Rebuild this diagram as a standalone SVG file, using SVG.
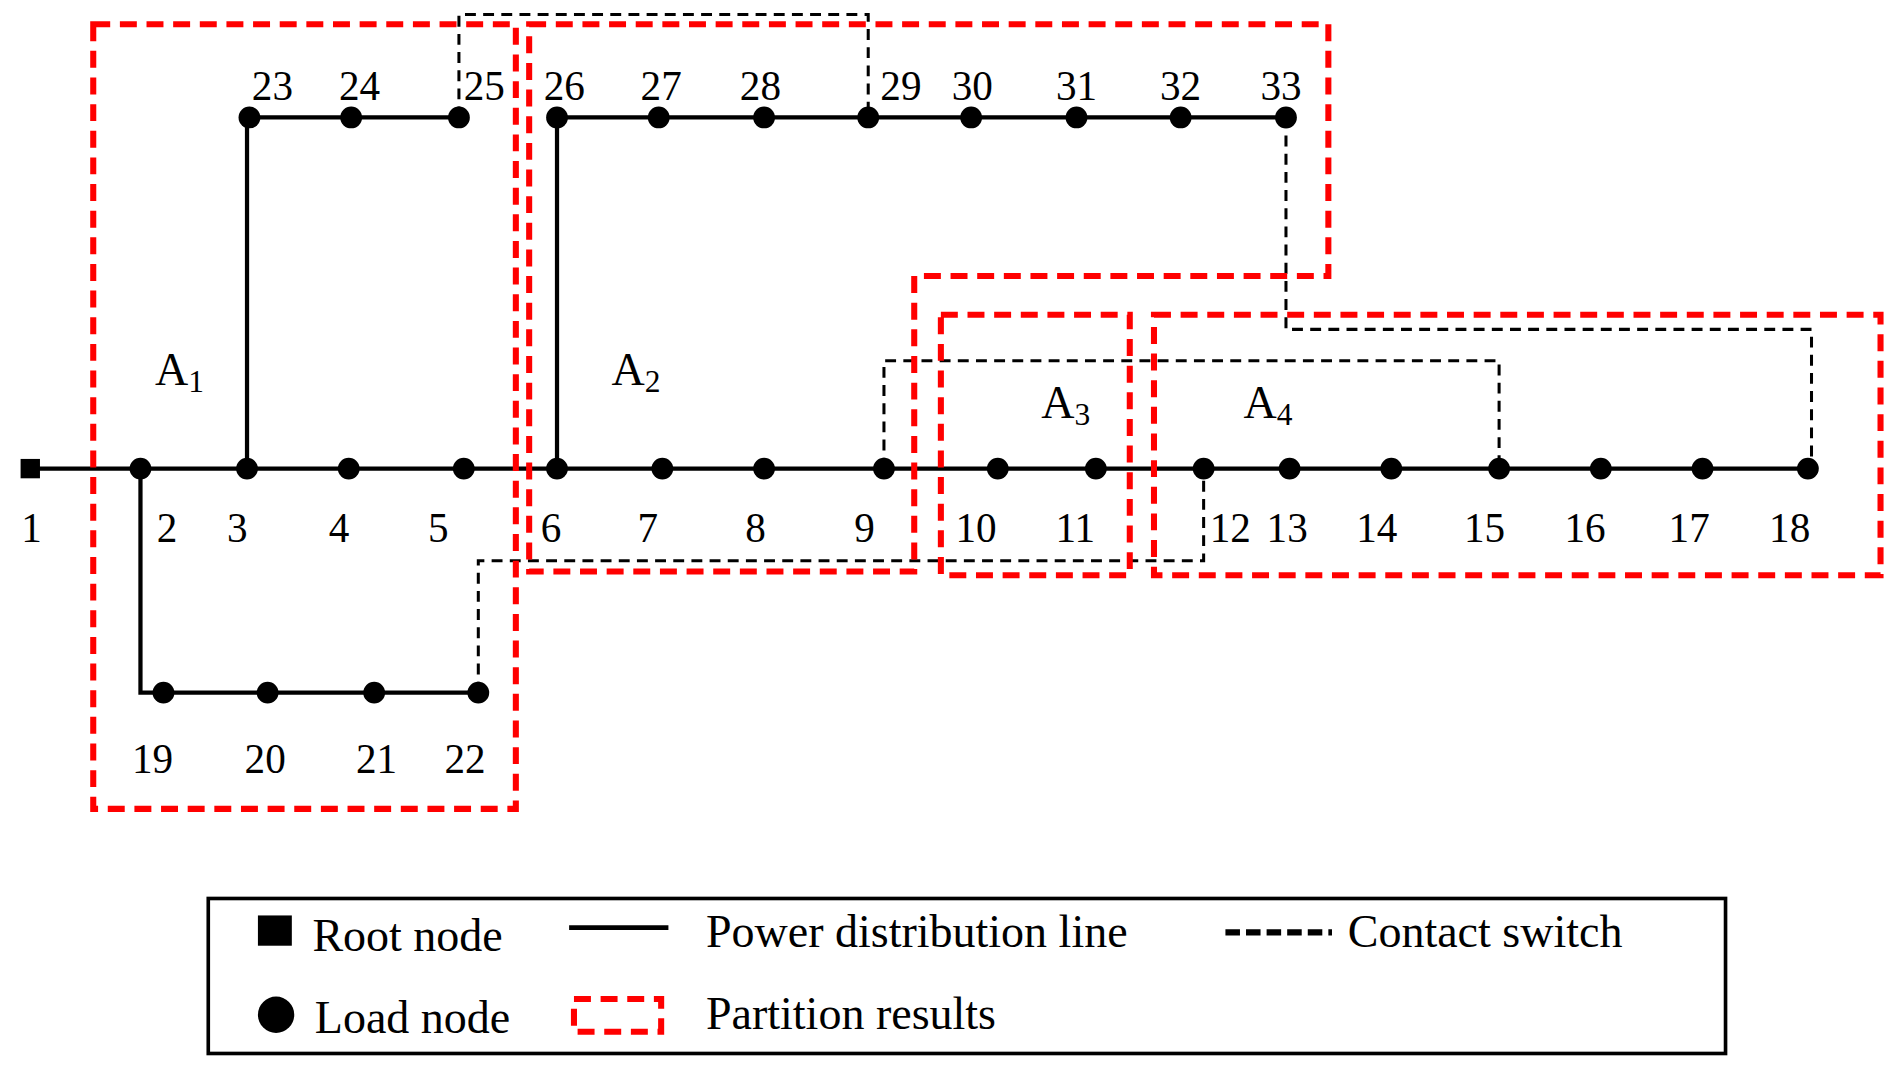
<svg xmlns="http://www.w3.org/2000/svg" width="1889" height="1066" viewBox="0 0 1889 1066">
<style>
text{font-family:"Liberation Serif",serif;fill:#000}
.n{font-size:34px;text-anchor:middle}
.a{font-size:38px}
.lg{font-size:38px}
.ln{stroke:#000;stroke-width:3.5;fill:none}
.sw{stroke:#000;stroke-width:2.5;fill:none;stroke-dasharray:9,6}
.pr{stroke:#f00;stroke-width:5;fill:none;stroke-dasharray:14,8}
circle{fill:#000}
</style>
<rect width="1889" height="1066" fill="#fff"/>
<g transform="scale(1.2109)">
<g id="connectors">
<path class="ln" d="M18,387H1493M204,387V97H379M460,387V97H1062M116,387V572H395"/>
<path class="sw" d="M379,97V12H717V97M1062,97V272H1496V387M730,387V298H1238V387M395,572V463H994V387"/>
</g>
<g id="partitions">
<rect class="pr" x="77" y="20" width="349" height="648"/>
<path class="pr" d="M437,20H1097V228H755V472H437Z"/>
<rect class="pr" x="777" y="260" width="156" height="215"/>
<rect class="pr" x="953" y="260" width="600" height="215"/>
</g>
<g id="nodes">
<rect id="n1" x="17" y="379" width="16" height="16"/>
<g id="main"><circle cx="116" cy="387" r="9"/><circle cx="204" cy="387" r="9"/><circle cx="288" cy="387" r="9"/><circle cx="383" cy="387" r="9"/><circle cx="460" cy="387" r="9"/><circle cx="547" cy="387" r="9"/><circle cx="631" cy="387" r="9"/><circle cx="730" cy="387" r="9"/><circle cx="824" cy="387" r="9"/><circle cx="905" cy="387" r="9"/><circle cx="994" cy="387" r="9"/><circle cx="1065" cy="387" r="9"/><circle cx="1149" cy="387" r="9"/><circle cx="1238" cy="387" r="9"/><circle cx="1322" cy="387" r="9"/><circle cx="1406" cy="387" r="9"/><circle cx="1493" cy="387" r="9"/></g>
<g id="top"><circle cx="206" cy="97" r="9"/><circle cx="290" cy="97" r="9"/><circle cx="379" cy="97" r="9"/><circle cx="460" cy="97" r="9"/><circle cx="544" cy="97" r="9"/><circle cx="631" cy="97" r="9"/><circle cx="717" cy="97" r="9"/><circle cx="802" cy="97" r="9"/><circle cx="889" cy="97" r="9"/><circle cx="975" cy="97" r="9"/><circle cx="1062" cy="97" r="9"/></g>
<g id="bottom"><circle cx="135" cy="572" r="9"/><circle cx="221" cy="572" r="9"/><circle cx="309" cy="572" r="9"/><circle cx="395" cy="572" r="9"/></g>
</g>
<g id="labels">
<text class="n" x="26" y="448">1</text><text class="n" x="138" y="448">2</text><text class="n" x="196" y="448">3</text><text class="n" x="280" y="448">4</text><text class="n" x="362" y="448">5</text><text class="n" x="455" y="448">6</text><text class="n" x="535" y="448">7</text><text class="n" x="624" y="448">8</text><text class="n" x="714" y="448">9</text><text class="n" x="806" y="448">10</text><text class="n" x="888" y="448">11</text><text class="n" x="1016" y="448">12</text><text class="n" x="1063" y="448">13</text><text class="n" x="1137" y="448">14</text><text class="n" x="1226" y="448">15</text><text class="n" x="1309" y="448">16</text><text class="n" x="1395" y="448">17</text><text class="n" x="1478" y="448">18</text>
<text class="n" x="225" y="83">23</text><text class="n" x="297" y="83">24</text><text class="n" x="400" y="83">25</text><text class="n" x="466" y="83">26</text><text class="n" x="546" y="83">27</text><text class="n" x="628" y="83">28</text><text class="n" x="744" y="83">29</text><text class="n" x="803" y="83">30</text><text class="n" x="889" y="83">31</text><text class="n" x="975" y="83">32</text><text class="n" x="1058" y="83">33</text>
<text class="n" x="126" y="638">19</text><text class="n" x="219" y="638">20</text><text class="n" x="311" y="638">21</text><text class="n" x="384" y="638">22</text>
<text class="a" x="128" y="318">A<tspan font-size="26" dy="6">1</tspan></text>
<text class="a" x="505" y="318">A<tspan font-size="26" dy="6">2</tspan></text>
<text class="a" x="860" y="345">A<tspan font-size="26" dy="6">3</tspan></text>
<text class="a" x="1027" y="345">A<tspan font-size="26" dy="6">4</tspan></text>
</g>
<g id="legend">
<rect x="172" y="742" width="1253" height="128" fill="none" stroke="#000" stroke-width="3"/>
<rect x="213" y="756" width="28" height="25"/>
<text class="lg" x="258" y="785">Root node</text>
<line x1="470" y1="766" x2="552" y2="766" stroke="#000" stroke-width="4"/>
<text class="lg" x="583" y="782">Power distribution line</text>
<line x1="1012" y1="770" x2="1100" y2="770" stroke="#000" stroke-width="5" stroke-dasharray="12,5"/>
<text class="lg" x="1113" y="782">Contact switch</text>
<circle cx="228" cy="838" r="15"/>
<text class="lg" x="260" y="853">Load node</text>
<rect x="474" y="825" width="72" height="27" fill="none" stroke="#f00" stroke-width="5" stroke-dasharray="14,8"/>
<text class="lg" x="583" y="850">Partition results</text>
</g>
</g>
</svg>
